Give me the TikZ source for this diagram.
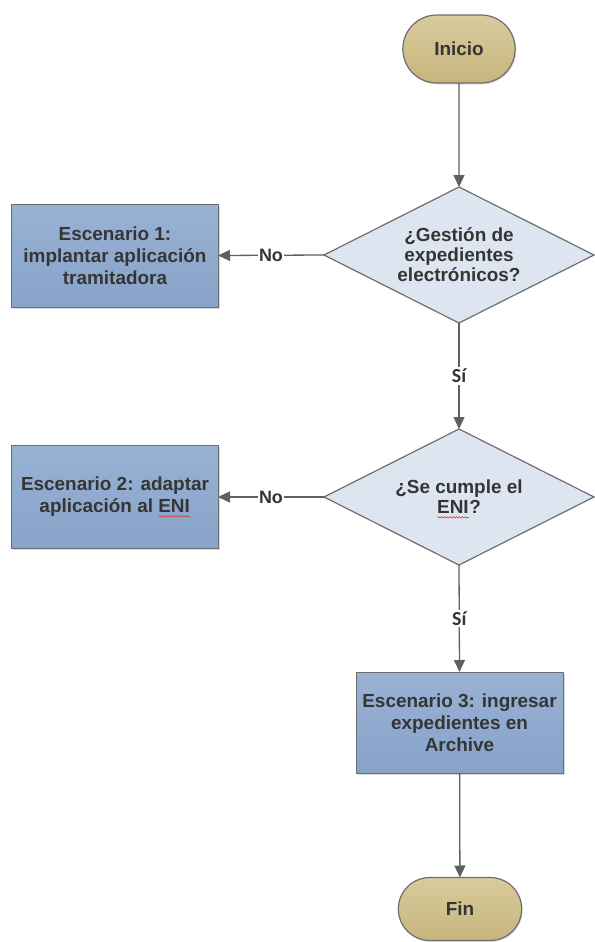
\documentclass[tikz,border=0pt]{standalone}
\usepackage{fontspec}
\setmainfont{Liberation Sans}
\newfontfamily\calibfont{Carlito}
\usetikzlibrary{shapes.geometric,shapes.misc,arrows.meta,shadows,decorations.pathmorphing}
\definecolor{tanT}{HTML}{D8CB9C}
\definecolor{tanB}{HTML}{C7B57E}
\definecolor{boxT}{HTML}{98B2D4}
\definecolor{boxB}{HTML}{87A3C9}
\definecolor{diaF}{HTML}{DDE5F1}
\definecolor{lineC}{HTML}{606060}
\definecolor{edgeC}{HTML}{6E6E6E}
\definecolor{txtC}{HTML}{353535}
\definecolor{waveC}{HTML}{E03030}
\newsavebox\sqbox
\newcommand\squig[1]{\sbox\sqbox{#1}\rlap{\usebox\sqbox}\raisebox{-3.5bp}[0pt][0pt]{\tikz[baseline=0pt]\draw[waveC,line width=0.6bp,decorate,decoration={snake,amplitude=0.7bp,segment length=3bp}] (0,0) -- (\wd\sqbox,0);}}
\tikzset{
  basefont/.style={font=\bfseries\fontsize{19}{22}\selectfont, text=txtC},
  term/.style={rounded rectangle, draw=edgeC, line width=1.2bp, top color=tanT, bottom color=tanB,
    basefont, outer sep=0pt, drop shadow={opacity=0.25, shadow xshift=1bp, shadow yshift=-1.5bp}},
  stepbox/.style={rectangle, draw=edgeC, line width=1bp, top color=boxT, bottom color=boxB,
    basefont, align=center, outer sep=0pt, minimum width=206bp, minimum height=103bp,
    drop shadow={opacity=0.3, shadow xshift=1.5bp, shadow yshift=-1.5bp}},
  decision/.style={diamond, draw=edgeC, line width=1.2bp, fill=diaF, outer sep=0pt, inner sep=0pt,
    minimum width=270bp, minimum height=136bp},
  dtext/.style={font=\bfseries\fontsize{19}{20}\selectfont, text=txtC, align=center},
  arr/.style={draw=lineC, line width=1.3bp, -{Triangle[length=12bp,width=11bp]}},
  nolab/.style={fill=white, inner sep=1.5bp, font=\bfseries\fontsize{18}{20}\selectfont, text=txtC},
  silab/.style={fill=white, inner sep=2bp, font=\calibfont\bfseries\fontsize{20}{22}\selectfont, text=txtC}
}
\begin{document}
\begin{tikzpicture}[x=1bp,y=-1bp]
\useasboundingbox (0,0) rectangle (595,942);
\node[term, minimum width=119bp, minimum height=68bp] (ini) at (459,49) {Inicio};
\node[decision] (d1) at (459,255) {};
\node[dtext] (t1) at (d1.center) {¿Gestión de\\expedientes\\electrónicos?};
\node[stepbox] (b1) at (115,255.5) {Escenario 1:\\implantar aplicación\\tramitadora};
\node[decision] (d2) at (459,497) {};
\node[dtext] (t2) at (d2.center) {¿Se cumple el\\\squig{ENI}?};
\node[stepbox] (b2) at (115,497) {Escenario 2: adaptar\\aplicación al \squig{ENI}};
\node[stepbox, minimum width=207bp, minimum height=101bp] (b3) at (459.5,722.5) {Escenario 3: ingresar\\expedientes en\\Archive};
\node[term, minimum width=130bp, minimum height=63bp] (fin) at (460,909) {Fin};
\draw[arr] (ini) -- (d1.north);
\draw[arr] (d1.west) -- node[nolab] {No} (b1.east);
\draw[arr] (d1.south) -- node[silab] {Sí} (d2.north);
\draw[arr] (d2.west) -- node[nolab] {No} (b2.east);
\draw[arr] (d2.south) -- node[silab] {Sí} (b3.north);
\draw[arr] (b3) -- (fin);
\end{tikzpicture}
\end{document}
